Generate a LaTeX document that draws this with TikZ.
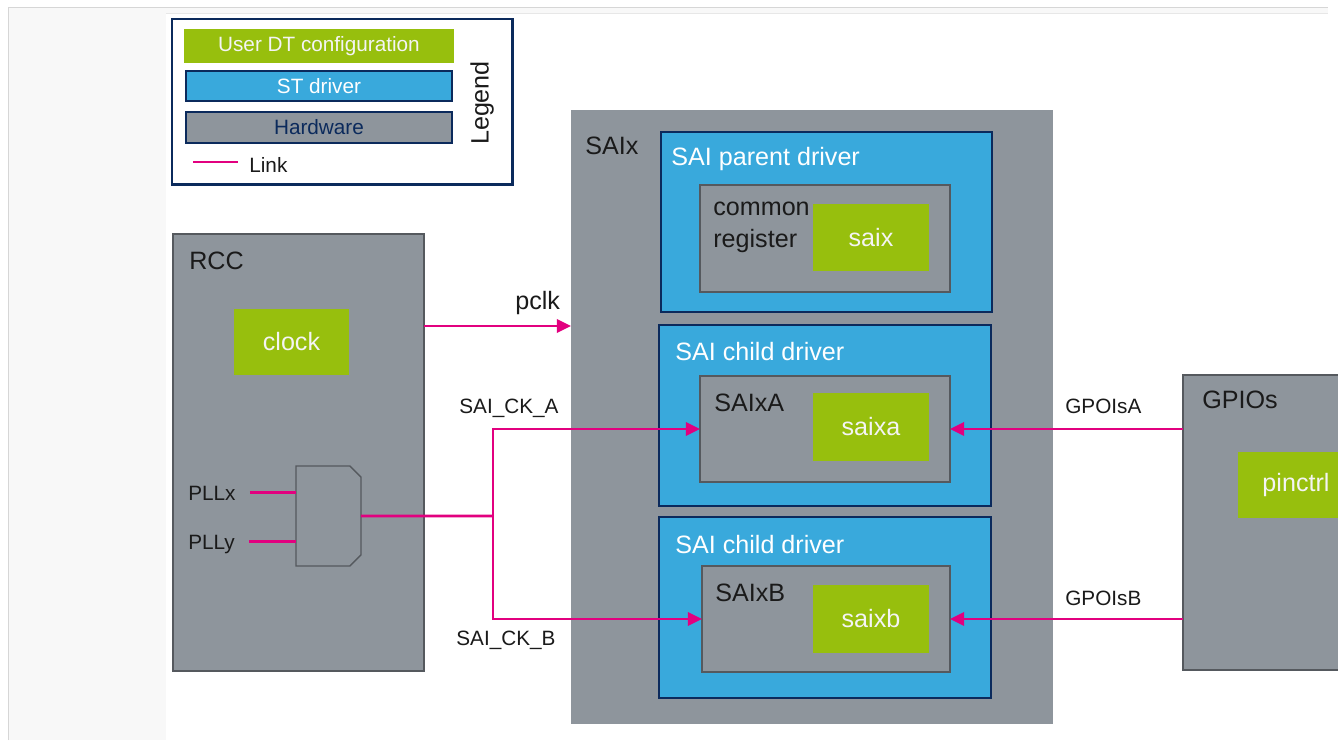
\documentclass[tikz,border=0pt]{standalone}
\usepackage{fontspec}
\setmainfont{Liberation Sans}
\usetikzlibrary{arrows.meta}

\definecolor{stgreen}{HTML}{97BF0D}
\definecolor{stblue}{HTML}{39A9DC}
\definecolor{hwgray}{HTML}{8E959C}
\definecolor{stnavy}{HTML}{0B2A5C}
\definecolor{boxline}{HTML}{55595E}
\definecolor{linkc}{HTML}{E2007F}
\definecolor{txt}{HTML}{1A1A1A}
\definecolor{cfgtext}{HTML}{F4F4F4}
\definecolor{pagegray}{HTML}{F8F8F8}
\definecolor{pageline}{HTML}{D6D6D6}

\newcommand{\lblfont}{\fontsize{14.3}{17}\selectfont}
\newcommand{\tagfont}{\fontsize{11.8}{14}\selectfont}

\begin{document}
\begin{tikzpicture}[x=0.02cm, y=-0.02cm]
	\tikzstyle{hw}=[rectangle, anchor=north west, fill=hwgray, draw=boxline, line width=0.8pt, inner sep=0pt, outer sep=0pt]
	\tikzstyle{drv}=[rectangle, anchor=north west, fill=stblue, draw=stnavy, line width=0.8pt, inner sep=0pt, outer sep=0pt]
	\tikzstyle{cfg}=[rectangle, anchor=north west, fill=stgreen, text=cfgtext, font=\lblfont, inner sep=0pt, outer sep=0pt]
	\tikzstyle{boxtitle}=[anchor=base west, inner sep=0pt, font=\lblfont, text=txt]
	\tikzstyle{tag}=[anchor=base west, inner sep=0pt, font=\tagfont, text=txt]
	\tikzstyle{linkline}=[draw=linkc, line width=1.6pt, >={Triangle[length=8pt, width=7.5pt]}]

	\clip (0,0) rectangle (1338,740);
	% page around the picture
	\fill[white] (0,0) rectangle (1338,740);
	\fill[pagegray] (8,7) rectangle (166,740);
	\fill[pagegray] (166,7) rectangle (1328,13);
	\draw[pageline] (8,740) -- (8,7) -- (1328,7);
	\draw[pageline!60] (166,13) -- (1328,13);

	% legend
	\draw node[rectangle, anchor=north west, draw=stnavy, line width=1.7pt, minimum width=6.82cm, minimum height=3.32cm, inner sep=0pt, outer sep=0pt] at (172,19) (legend) {};
	\draw node[cfg, minimum width=5.40cm, minimum height=0.68cm, font=\tagfont] at (184,29) (lgcfg) {User DT configuration};
	\draw node[drv, minimum width=5.32cm, minimum height=0.60cm, font=\tagfont, text=white] at (186,71) (lgdrv) {ST driver};
	\draw node[hw, draw=stnavy, minimum width=5.32cm, minimum height=0.62cm, font=\tagfont, text=stnavy] at (186,112) (lghw) {Hardware};
	\draw node[tag] at (249,172) (lglink) {Link};
	\draw node[rotate=90, inner sep=0pt, font=\lblfont, text=txt] at (482,103) (lgtitle) {Legend};
	\coordinate (lgl) at (193,162);
	\draw[linkline] (lgl) -- +(45,0);

	% RCC
	\draw node[hw, minimum width=5.02cm, minimum height=8.74cm] at (173,234) (rcc) {};
	\draw node[boxtitle] at (189,269) (rcct) {RCC};
	\draw node[cfg, minimum width=2.30cm, minimum height=1.32cm] at (234,309) (clock) {clock};
	\draw node[hw, draw=none, fill=none, minimum width=1.30cm, minimum height=2.00cm] at (296,466) (mux) {};
	\draw[fill=hwgray, draw=boxline, line width=0.8pt] (mux.south west) -- (mux.north west) -- ([xshift=-0.22cm]mux.north east) -- ([yshift=-0.22cm]mux.north east) -- ([yshift=0.22cm]mux.south east) -- ([xshift=-0.22cm]mux.south east) -- cycle;
	\draw node[tag] at (188,500) (pllx) {PLLx};
	\draw node[tag] at (188,549) (plly) {PLLy};
	\draw[linkline] ([xshift=0.28cm, yshift=0.05cm]pllx.mid east) -- ([yshift=0.05cm]pllx.mid east -| mux.west);
	\draw[linkline] ([xshift=0.28cm, yshift=0.05cm]plly.mid east) -- ([yshift=0.05cm]plly.mid east -| mux.west);

	% SAIx
	\draw node[hw, draw=none, minimum width=9.64cm, minimum height=12.28cm] at (571,110) (saix) {};
	\draw node[boxtitle] at (585,154) (saixt) {SAIx};

	\draw node[drv, minimum width=6.62cm, minimum height=3.60cm] at (661,132) (parent) {};
	\draw node[boxtitle, text=white] at (671,165) (parentt) {SAI parent driver};
	\draw node[hw, minimum width=5.00cm, minimum height=2.14cm] at (700,185) (common) {};
	\draw node[boxtitle] at (713,215) (commont) {common};
	\draw node[boxtitle] at (713,247) (registert) {register};
	\draw node[cfg, minimum width=2.32cm, minimum height=1.34cm] at (813,204) (saixcfg) {saix};

	\draw node[drv, minimum width=6.64cm, minimum height=3.62cm] at (659,325) (childa) {};
	\draw node[boxtitle, text=white] at (675,360) (childat) {SAI child driver};
	\draw node[hw, minimum width=5.00cm, minimum height=2.12cm] at (700,376) (saixa) {};
	\draw node[boxtitle] at (714,411) (saixat) {SAIxA};
	\draw node[cfg, minimum width=2.32cm, minimum height=1.36cm] at (813,393) (saixacfg) {saixa};

	\draw node[drv, minimum width=6.64cm, minimum height=3.62cm] at (659,517) (childb) {};
	\draw node[boxtitle, text=white] at (675,553) (childbt) {SAI child driver};
	\draw node[hw, minimum width=4.96cm, minimum height=2.12cm] at (702,566) (saixb) {};
	\draw node[boxtitle] at (715,601) (saixbt) {SAIxB};
	\draw node[cfg, minimum width=2.32cm, minimum height=1.36cm] at (813,585) (saixbcfg) {saixb};

	% GPIOs
	\draw node[hw, minimum width=4.00cm, minimum height=5.90cm] at (1183,375) (gpios) {};
	\draw node[boxtitle] at (1202,408) (gpiost) {GPIOs};
	\draw node[cfg, minimum width=2.32cm, minimum height=1.32cm] at (1238,452) (pinctrl) {pinctrl};

	% links
	\coordinate (pclkin) at (570,326);
	\coordinate (ck) at (493,516);
	\draw [linkline, ->] (rcc.east |- pclkin) -- (saix.west |- pclkin);
	\draw node[boxtitle] at (515,309) (pclk) {pclk};
	\draw [linkline] (mux.east) -- (ck);
	\draw [linkline, ->] (ck) |- (saixa.west);
	\draw [linkline, ->] (ck) |- (saixb.west);
	\draw node[tag] at (459,413) (ckat) {SAI\_CK\_A};
	\draw node[tag] at (456,645) (ckbt) {SAI\_CK\_B};
	\draw [linkline, ->] (gpios.west |- saixa.east) -- (saixa.east);
	\draw [linkline, ->] (gpios.west |- saixb.east) -- (saixb.east);
	\draw node[tag] at (1065,413) (gpioat) {GPOIsA};
	\draw node[tag] at (1065,605) (gpiobt) {GPOIsB};
\end{tikzpicture}
\end{document}
